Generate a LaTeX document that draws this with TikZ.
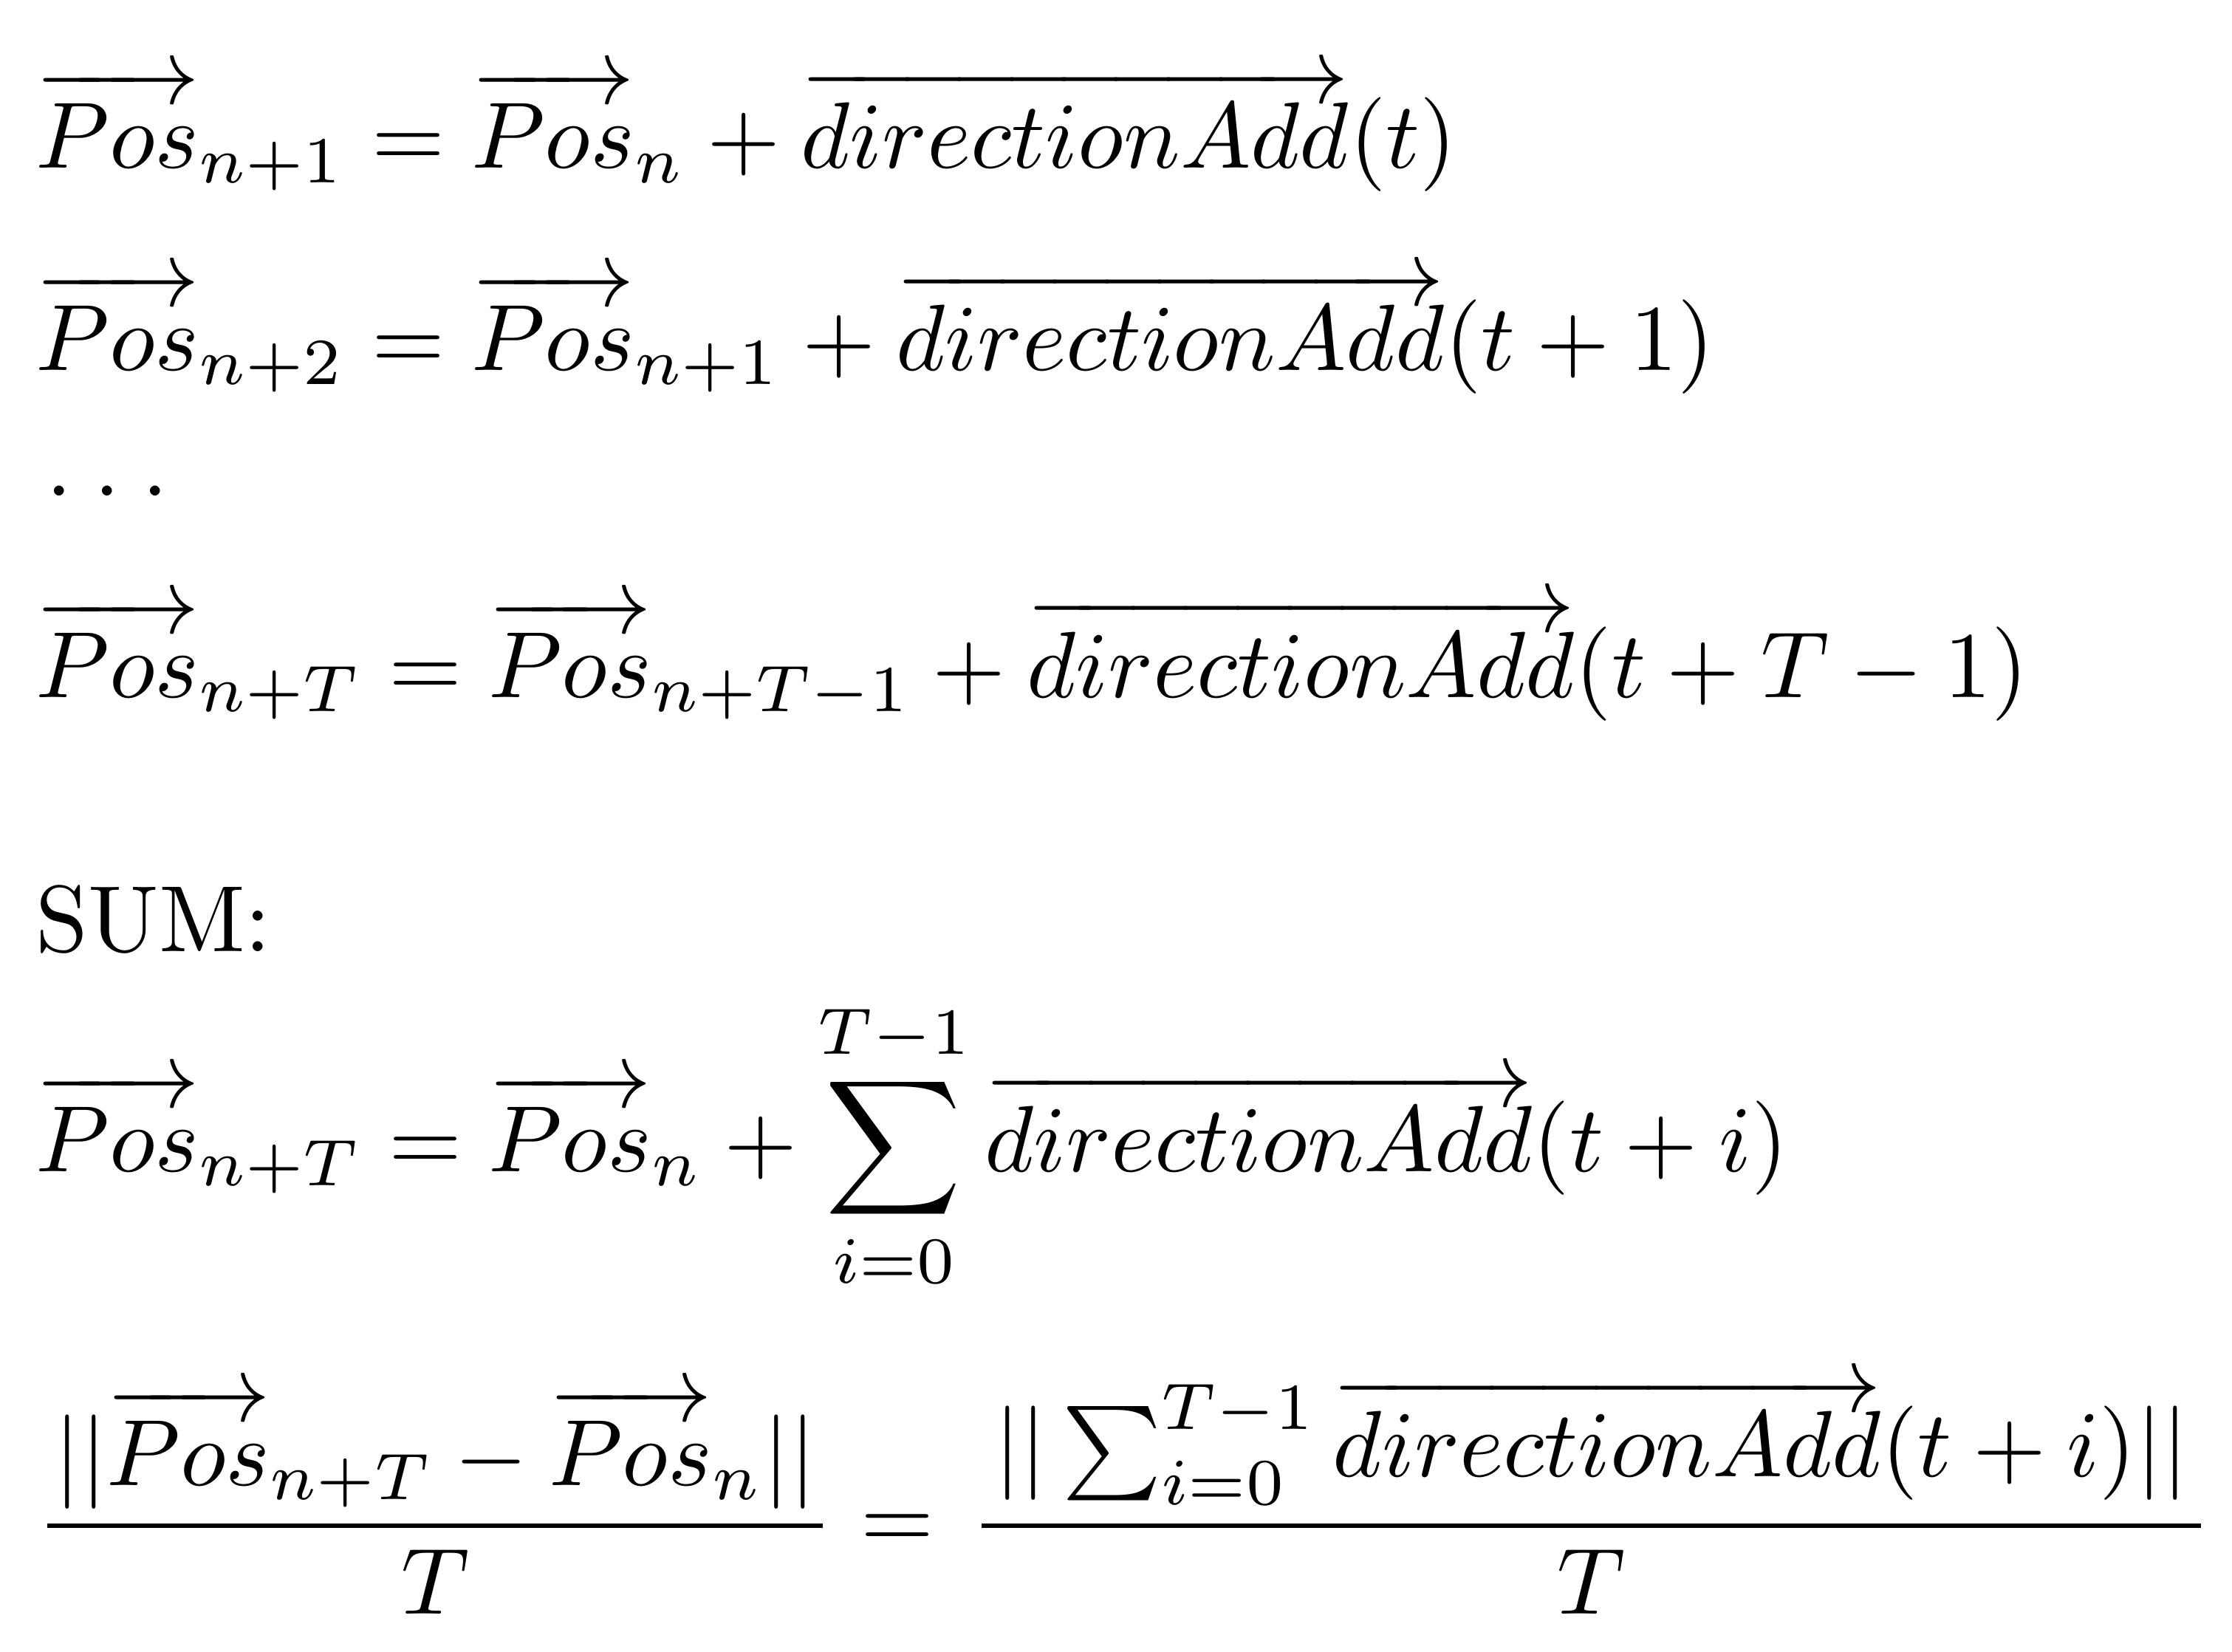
\documentclass[tikz,border=0pt]{standalone}
\usepackage{amsmath}
\newcommand{\fpad}{\mkern1.4mu}
\begin{document}
\begin{tikzpicture}[x=1pt,y=1pt,
  eq/.style={anchor=base west, inner sep=0pt, outer sep=0pt, scale=0.945, transform shape}]
\useasboundingbox[fill=white] (0,0) rectangle (224,-165.8);
\node[eq] (l1) at (3.6,-16.9) {$\overrightarrow{Pos}_{n+1} = \overrightarrow{Pos}_n + \overrightarrow{directionAdd}(t)$};
\node[eq] (l2) at (3.6,-37.2) {$\overrightarrow{Pos}_{n+2} = \overrightarrow{Pos}_{n+1} + \overrightarrow{directionAdd}(t+1)$};
\node[eq] (l3) at (4.6,-49.8) {${.}\mkern4.25mu{.}\mkern4.25mu{.}$};
\node[eq] (l4) at (3.6,-70) {$\overrightarrow{Pos}_{n+T} = \overrightarrow{Pos}_{n+T-1} + \overrightarrow{directionAdd}(t+T-1)$};
\node[eq] (sum) at (3.6,-95.5) {SUM:};
\node[eq] (l6) at (3.6,-117.6) {$\displaystyle \overrightarrow{Pos}_{n+T} = \overrightarrow{Pos}_n + \sum_{i=0}^{T-1}\overrightarrow{directionAdd}(t+i)$};
\node[eq] (l7) at (3.6,-155.5) {$\displaystyle \frac{\fpad||\overrightarrow{Pos}_{n+T} - \overrightarrow{Pos}_n||\fpad}{T} =\mkern2mu \frac{\fpad\mkern1mu||\sum_{i=0}^{T-1}\overrightarrow{directionAdd}(t+i)||\vrule width0pt depth3.8pt\mkern1mu\fpad}{T}$};
\end{tikzpicture}
\end{document}
